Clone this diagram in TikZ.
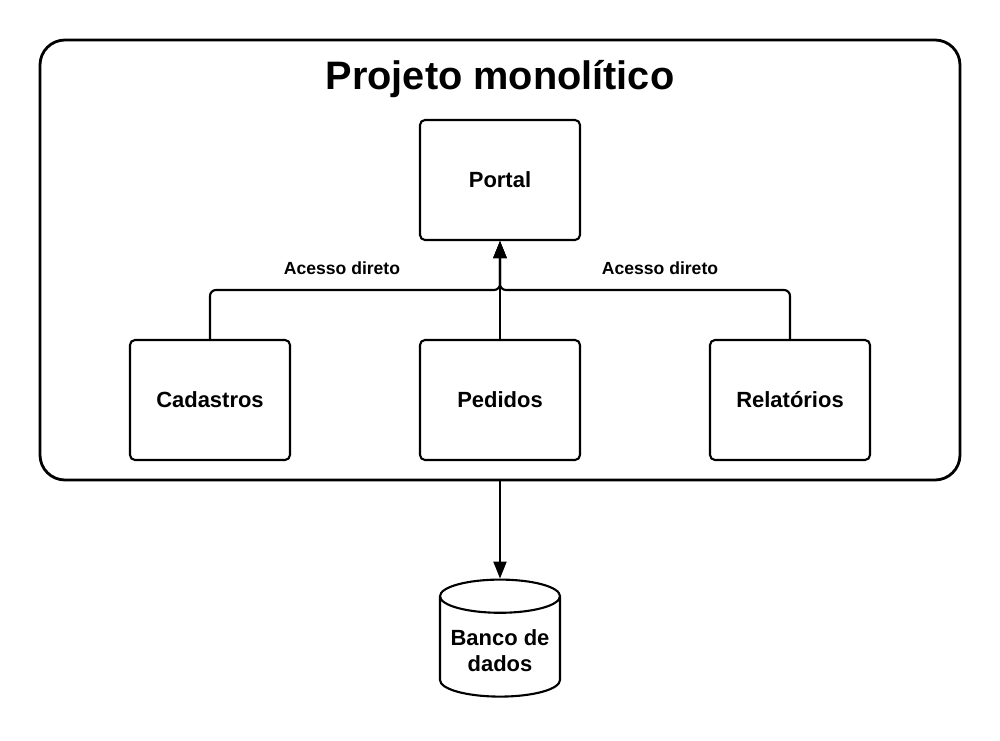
\documentclass[tikz,border=0pt]{standalone}
\usepackage{fontspec}
\setmainfont{Liberation Sans}
\usetikzlibrary{positioning,arrows.meta,shapes.geometric}

\begin{document}
\begin{tikzpicture}
  [
  modbox/.style={rectangle,rounded corners=0.1cm,draw,line width=1.2pt,
    minimum width=3.2cm,minimum height=2.4cm,align=center,
    font=\bfseries\fontsize{12.5}{15}\selectfont},
  dbbox/.style={cylinder,shape border rotate=90,aspect=0.3,draw,line width=1.2pt,
    minimum width=2.4cm,minimum height=2.34cm,align=center,
    font=\bfseries\fontsize{12.5}{15}\selectfont},
  conn/.style={line width=1.2pt,-{Triangle[length=0.34cm,width=0.26cm]}},
  every label/.style={font=\bfseries\fontsize{10}{12}\selectfont}
  ]
  \useasboundingbox (0,0) rectangle (20,14.8);

  \node (proj) [draw,line width=1.6pt,rounded corners=0.5cm,
    minimum width=18.4cm,minimum height=8.8cm] at (10,9.6) {};
  \node (title) at (10,13.22) {\bfseries\fontsize{22.6}{26}\selectfont Projeto monolítico};

  \node (portal) [modbox] at (10,11.2) {Portal};
  \node (ped)    [modbox] at (10,6.8) {Pedidos};
  \node (cad)    [modbox] at (4.2,6.8) {Cadastros};
  \node (rel)    [modbox] at (15.8,6.8) {Relatórios};

  \node (db) [dbbox] at (10,1.79) {Banco de\\dados};

  \coordinate (busl) at (10,9);
  \draw [conn,rounded corners=0.12cm] (cad.north) |- (busl) -- (portal.south);
  \draw [conn,rounded corners=0.12cm] (rel.north) |- (busl) -- (portal.south);
  \draw [conn] (ped.north) -- (portal.south);
  \draw [conn] (proj.south) -- (db.top);

  \node [label=center:Acesso direto] at (6.84,9.44) {};
  \node [label=center:Acesso direto] at (13.2,9.44) {};
\end{tikzpicture}
\end{document}
